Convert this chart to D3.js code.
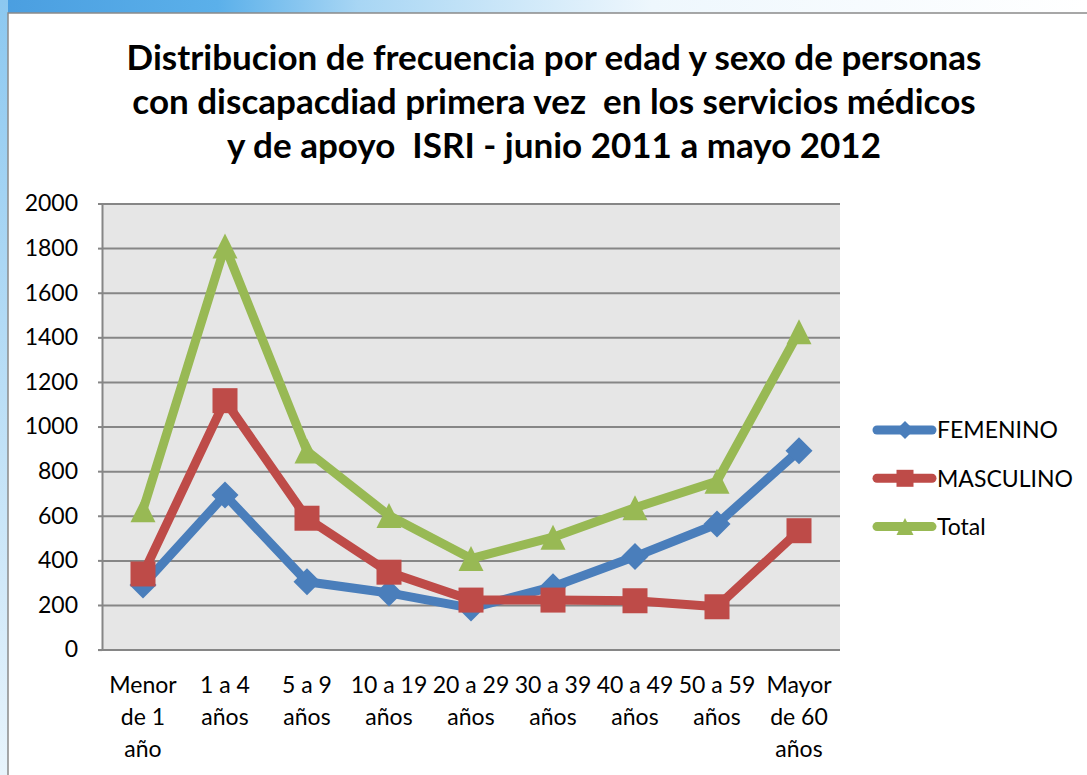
<!DOCTYPE html>
<html lang="es">
<head>
<meta charset="utf-8">
<script src="https://cdn.jsdelivr.net/npm/d3@7"></script>
<style>
    body { margin: 0; background: #ffffff; }
    text { font-family: Lato, "Noto Sans", sans-serif; fill: #000000; }
</style>
</head>
<body>
<script type="text/javascript">

    /* datos */
    var categories = ["Menor de 1 año", "1 a 4 años", "5 a 9 años", "10 a 19 años", "20 a 29 años",
                      "30 a 39 años", "40 a 49 años", "50 a 59 años", "Mayor de 60 años"];
    var categoryLines = [["Menor", "de 1", "año"], ["1 a 4", "años"], ["5 a 9", "años"], ["10 a 19", "años"],
                         ["20 a 29", "años"], ["30 a 39", "años"], ["40 a 49", "años"], ["50 a 59", "años"],
                         ["Mayor", "de 60", "años"]];
    var femenino = [290, 693, 304, 254, 186, 282, 417, 563, 892];
    var masculino = [339, 1116, 589, 347, 222, 222, 219, 192, 533];
    var total = [627, 1809, 890, 601, 408, 504, 636, 755, 1425];
    var yTicks = [0, 200, 400, 600, 800, 1000, 1200, 1400, 1600, 1800, 2000];
    var titleLines = ["Distribucion de frecuencia por edad y sexo de personas",
                      "con discapacdiad primera vez  en los servicios médicos",
                      "y de apoyo  ISRI - junio 2011 a mayo 2012"];

    var series = [
        {name: "FEMENINO", values: femenino, color: "#4a7ebb", marker: "diamond"},
        {name: "MASCULINO", values: masculino, color: "#be4b48", marker: "square"},
        {name: "Total", values: total, color: "#98b954", marker: "triangle"}
    ];

    var svgWidth = 1087;
    var svgHeight = 775;

    var svg = d3.select("body").append("svg")
            .attr("width", svgWidth)
            .attr("height", svgHeight);

    /* fondo de la diapositiva */
    var defs = svg.append("defs");
    var gTop = defs.append("linearGradient").attr("id", "gTop");
    gTop.append("stop").attr("offset", "0%").attr("stop-color", "#4a9ee0");
    gTop.append("stop").attr("offset", "20%").attr("stop-color", "#5bb0ea");
    gTop.append("stop").attr("offset", "33%").attr("stop-color", "#a8d6f4");
    gTop.append("stop").attr("offset", "60%").attr("stop-color", "#eef7fd");
    gTop.append("stop").attr("offset", "100%").attr("stop-color", "#ffffff");
    var gLeft = defs.append("linearGradient").attr("id", "gLeft")
            .attr("x1", 0).attr("y1", 0).attr("x2", 0).attr("y2", 1);
    gLeft.append("stop").attr("offset", "0%").attr("stop-color", "#8cc8f0");
    gLeft.append("stop").attr("offset", "100%").attr("stop-color", "#e8f4fc");

    svg.append("rect").attr("x", 0).attr("y", 0).attr("width", svgWidth).attr("height", 14)
            .style("fill", "url(#gTop)");
    svg.append("rect").attr("x", 0).attr("y", 0).attr("width", 8).attr("height", svgHeight)
            .style("fill", "url(#gLeft)");

    /* marco del grafico */
    svg.append("rect")
            .attr("x", 8).attr("y", 13)
            .attr("width", svgWidth).attr("height", svgHeight)
            .style("fill", "#ffffff")
            .style("stroke", "#8a8a8a")
            .style("stroke-width", 1.5);

    /* titulo */
    svg.append("g").selectAll("text")
            .data(titleLines)
            .enter()
            .append("text")
            .attr("x", 554)
            .attr("y", function(d, i) { return 70 + i * 44; })
            .attr("text-anchor", "middle")
            .style("font-size", "35px")
            .style("font-weight", "bold")
            .style("white-space", "pre")
            .text(function(d) { return d; });

    /* area de trazado */
    var margin = {top: 203.5, left: 102, right: 840, bottom: 649.6};

    var x = d3.scalePoint()
            .domain(categories)
            .range([margin.left, margin.right])
            .padding(0.5);

    var y = d3.scaleLinear()
            .domain([0, 2000])
            .range([margin.bottom, margin.top]);

    svg.append("rect")
            .attr("x", margin.left).attr("y", margin.top)
            .attr("width", margin.right - margin.left)
            .attr("height", margin.bottom - margin.top)
            .style("fill", "#e6e6e6");

    /* grid + eje y */
    var yGrid = svg.append("g")
            .attr("transform", "translate(" + margin.left + ",0)")
            .call(d3.axisLeft(y)
                    .tickValues(yTicks)
                    .tickSize(-(margin.right - margin.left))
                    .tickFormat(""));
    yGrid.select(".domain").remove();
    yGrid.selectAll("line").style("stroke", "#868686").style("stroke-width", 2);

    var yAxis = svg.append("g")
            .attr("transform", "translate(" + margin.left + ",0)")
            .call(d3.axisLeft(y).tickValues(yTicks).tickFormat(d3.format("d")).tickSize(4).tickPadding(20));
    yAxis.select(".domain").style("stroke", "#868686").style("stroke-width", 2);
    yAxis.selectAll("line").style("stroke", "#868686").style("stroke-width", 2);
    yAxis.selectAll("text")
            .style("font-family", "Lato, sans-serif")
            .style("font-size", "23px")
            .style("fill", "#000");

    /* etiquetas eje x */
    var xLabels = svg.append("g").selectAll("text")
            .data(categories)
            .enter()
            .append("text")
            .attr("x", function(d) { return x(d); })
            .attr("y", 693)
            .attr("text-anchor", "middle")
            .style("font-size", "23px");
    xLabels.each(function(d, i) {
        d3.select(this).selectAll("tspan")
                .data(categoryLines[i])
                .enter()
                .append("tspan")
                .attr("x", x(d))
                .attr("dy", function(t, j) { return j === 0 ? 0 : 32; })
                .text(function(t) { return t; });
    });

    /* simbolos */
    function markerPath(type, size) {
        var h = size / 2;
        if (type === "diamond") {
            return "M0," + (-h) + "L" + h + ",0L0," + h + "L" + (-h) + ",0Z";
        } else if (type === "square") {
            return "M" + (-h) + "," + (-h) + "h" + size + "v" + size + "h" + (-size) + "Z";
        }
        return "M0," + (-h) + "L" + h + "," + h + "L" + (-h) + "," + h + "Z";
    }

    var line = d3.line()
            .x(function(d, i) { return x(categories[i]); })
            .y(function(d) { return y(d); });

    series.forEach(function(s) {
        svg.append("path")
                .datum(s.values)
                .attr("d", line)
                .style("fill", "none")
                .style("stroke", s.color)
                .style("stroke-width", 9)
                .style("stroke-linejoin", "round");

        svg.append("g").selectAll("path")
                .data(s.values)
                .enter()
                .append("path")
                .attr("transform", function(d, i) {
                    return "translate(" + x(categories[i]) + "," + y(d) + ")";
                })
                .attr("d", markerPath(s.marker, s.marker === "diamond" ? 27 : 25))
                .style("fill", s.color);
    });

    /* leyenda */
    var legend = svg.append("g").selectAll("g")
            .data(series)
            .enter()
            .append("g")
            .attr("transform", function(d, i) { return "translate(877," + (430 + i * 48.3) + ")"; });

    legend.append("line")
            .attr("x1", 0).attr("x2", 55)
            .style("stroke", function(d) { return d.color; })
            .style("stroke-width", 9)
            .style("stroke-linecap", "round");
    legend.append("path")
            .attr("transform", "translate(28,0)")
            .attr("d", function(d) { return markerPath(d.marker, d.marker === "diamond" ? 18 : 17); })
            .style("fill", function(d) { return d.color; });
    legend.append("text")
            .attr("x", 60)
            .attr("dy", "0.36em")
            .style("font-size", "23px")
            .text(function(d) { return d.name; });

</script>
</body>
</html>
